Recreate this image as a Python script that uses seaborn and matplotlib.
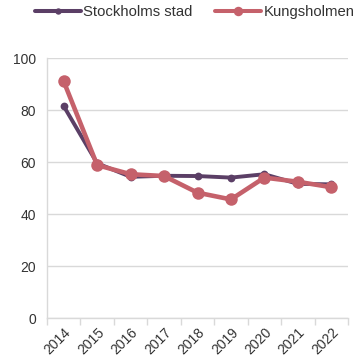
import matplotlib
matplotlib.use("Agg")
import matplotlib.pyplot as plt
import matplotlib.transforms as mtransforms
import seaborn as sns
import pandas as pd
import numpy as np
from matplotlib.ticker import FixedLocator

years = ["2014", "2015", "2016", "2017", "2018", "2019", "2020", "2021", "2022"]
stockholm = [81.5, 59.5, 54.3, 54.7, 54.6, 54.0, 55.3, 51.6, 51.4]
kungsholmen = [91.0, 58.8, 55.3, 54.6, 48.2, 45.6, 54.0, 52.4, 50.3]
series_names = ["Stockholms stad", "Kungsholmen"]
colors = ["#5b3f66", "#c5616b"]

sns.set_theme(style="white")
plt.rcParams["font.family"] = ["Liberation Sans", "DejaVu Sans"]

df = pd.DataFrame({
    "pos": list(range(len(years))) * 2,
    "value": stockholm + kungsholmen,
    "serie": [series_names[0]] * len(years) + [series_names[1]] * len(years),
})

fig = plt.figure(figsize=(3.54, 3.62), dpi=100)
ax = fig.add_axes([47 / 354, 44 / 362, 301 / 354, 260 / 362])

styles = {
    series_names[0]: dict(lw=2.8, ms=5.6),
    series_names[1]: dict(lw=3.3, ms=9.0),
}
for name, col in zip(series_names, colors):
    sub = df[df["serie"] == name]
    sns.lineplot(data=sub, x="pos", y="value", ax=ax, color=col,
                 linewidth=styles[name]["lw"], marker="o",
                 markersize=styles[name]["ms"], markeredgewidth=0,
                 label=name, solid_capstyle="round")

ax.set_xlim(-0.5, len(years) - 0.5)
ax.set_ylim(0, 100)
ax.set_yticks([0, 20, 40, 60, 80, 100])
ax.yaxis.grid(True, color="#d9d9d9", linewidth=1.0)
ax.set_axisbelow(True)
ax.set_xlabel("")
ax.set_ylabel("")

ax.set_xticks(range(len(years)))
ax.set_xticklabels(years, rotation=45, ha="right", rotation_mode="anchor",
                   fontsize=10, color="#333333")
shift = mtransforms.ScaledTranslation(-5 / 100, -2 / 100, fig.dpi_scale_trans)
for lab in ax.get_xticklabels():
    lab.set_transform(lab.get_transform() + shift)
ax.xaxis.set_minor_locator(FixedLocator(np.arange(-0.5, len(years), 1.0)))
ax.tick_params(axis="x", which="major", length=0, pad=5)
ax.tick_params(axis="x", which="minor", length=5, width=1, color="#d9d9d9",
               direction="out", bottom=True)
ax.tick_params(axis="y", length=0, labelsize=10, labelcolor="#333333", pad=8)

for s in ["top", "right"]:
    ax.spines[s].set_visible(False)
for s in ["left", "bottom"]:
    ax.spines[s].set_color("#d9d9d9")
    ax.spines[s].set_linewidth(1.0)

leg = ax.legend(loc="center left", bbox_to_anchor=(-12 / 301, 1 + 46 / 260),
                ncol=2, frameon=False, fontsize=10.7, handlelength=3.1,
                handletextpad=0.15, columnspacing=1.5, borderaxespad=0,
                borderpad=0, labelcolor="#333333")
for h, ms in zip(leg.legend_handles, [4.6, 6.8]):
    h.set_markersize(ms)
    h.set_linewidth(2.9)

fig.savefig("out.png", dpi=100)
